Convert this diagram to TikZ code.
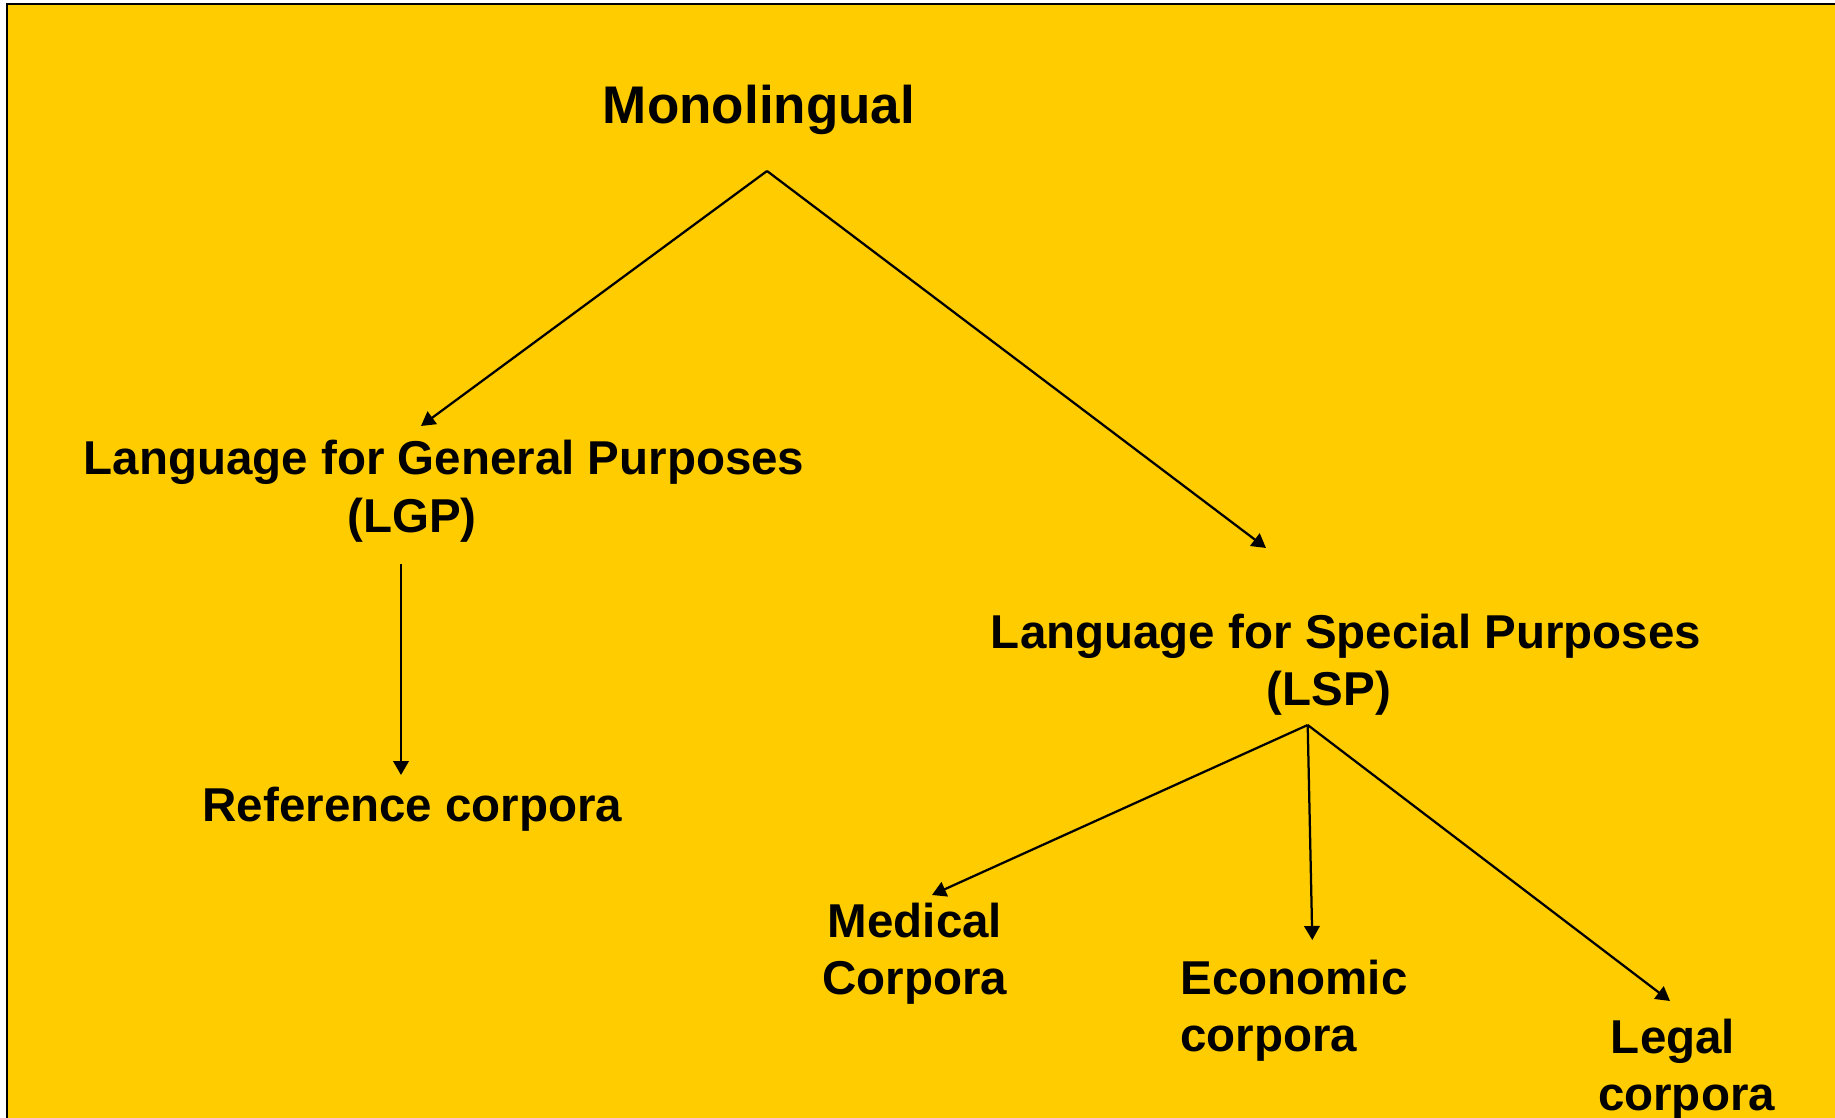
\documentclass[tikz,border=0pt]{standalone}
\usepackage{fontspec}
\setmainfont{Liberation Sans}
\usetikzlibrary{arrows.meta,calc}
\definecolor{bg}{HTML}{FFCC00}
\begin{document}
\begin{tikzpicture}[x=0.4pt,y=-0.4pt,
  lbl/.style={inner sep=0pt, anchor=base, font=\fontsize{19}{22.8}\selectfont\bfseries},
  conn/.style={line width=0.9pt, line join=miter, -{Triangle[length=5.6pt,width=6.2pt]}}]
\useasboundingbox (0,0) rectangle (1835,1118);
\draw[fill=bg, line width=0.8pt] (7,4) rectangle (1850,1135);

\node[lbl, font=\fontsize{21.2}{25.4}\selectfont\bfseries] (mono) at (759,124) {Monolingual};
\node[lbl] (lgp) at (444,475) {\begin{tabular}[t]{@{}c@{}}Language for General Purposes\\(LGP)\makebox[25.6pt]{}\end{tabular}};
\node[lbl] (lsp) at (1346,648) {\begin{tabular}[t]{@{}c@{}}Language for Special Purposes\\(LSP)\makebox[13.6pt]{}\end{tabular}};
\node[lbl] (ref) at (412.5,821) {Reference corpora};
\node[lbl] (med) at (915,937) {\begin{tabular}[t]{@{}c@{}}Medical\\Corpora\end{tabular}};
\node[lbl, anchor=base west] (eco) at (1180,994) {\begin{tabular}[t]{@{}l@{}}Economic\\corpora\end{tabular}};
\node[lbl] (leg) at (1686.5,1053) {\begin{tabular}[t]{@{}c@{}}Legal\makebox[10.8pt]{}\\corpora\end{tabular}};

\draw[conn] ($(mono.base)+(8,47)$) -- ($(lgp.base)+(-23,-49)$);
\draw[conn] ($(mono.base)+(8,47)$) -- ($(lsp.base)+(-80,-100)$);
\draw[conn] ($(lgp.base)+(-43,89)$) -- ($(ref.base)+(-11.5,-46)$);
\draw[conn] ($(lsp.base)+(-38.3,77)$) -- ($(med.base)+(17,-42)$);
\draw[conn] ($(lsp.base)+(-38.3,77)$) -- ($(eco.base west)+(132.3,-54)$);
\draw[conn] ($(lsp.base)+(-38.3,77)$) -- ($(leg.base)+(-16.5,-52)$);
\end{tikzpicture}
\end{document}
